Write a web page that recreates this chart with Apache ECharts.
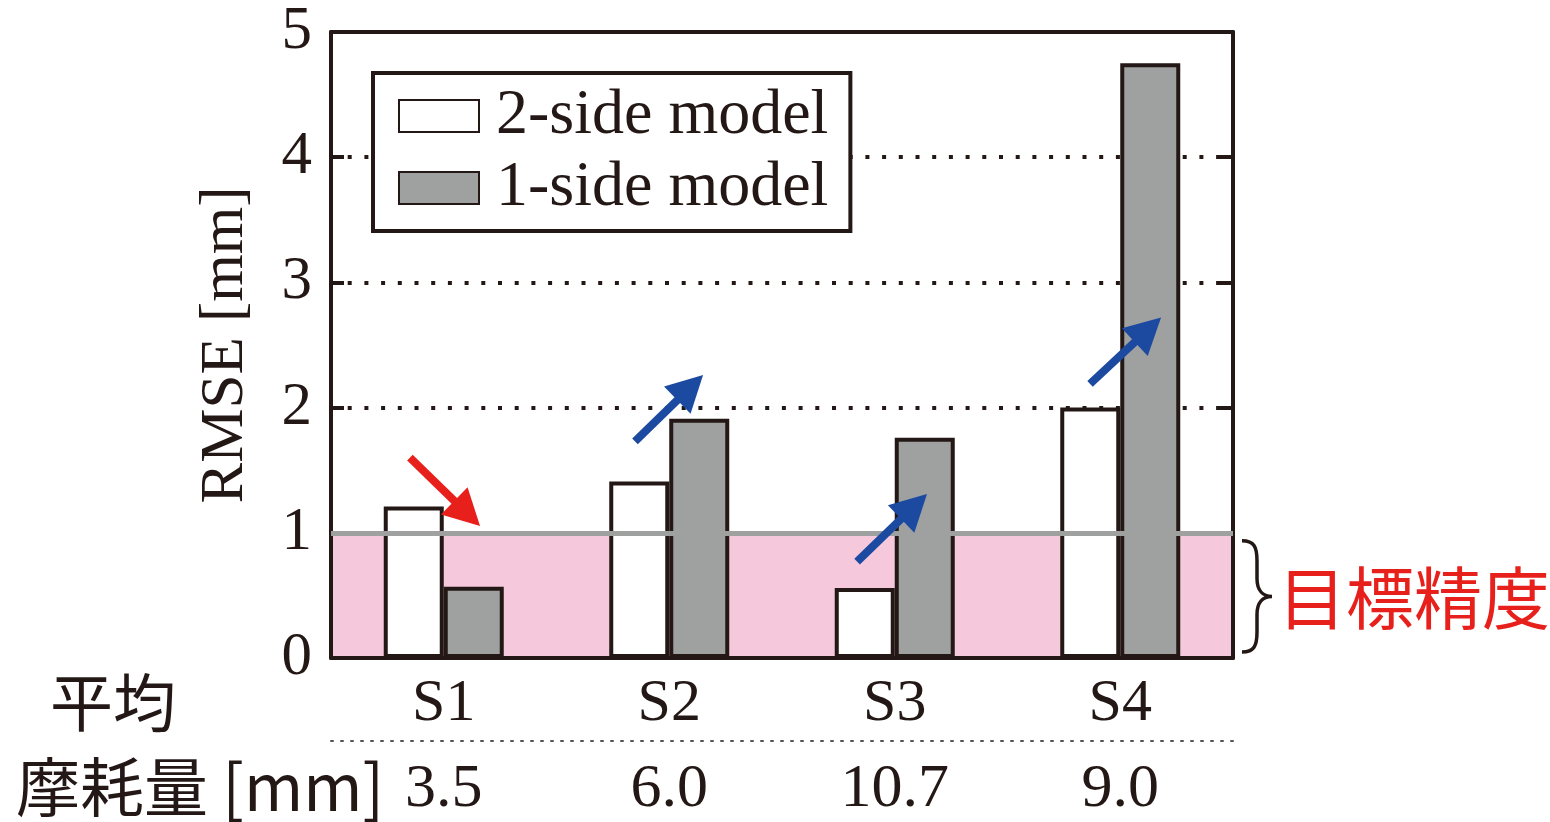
<!DOCTYPE html>
<html><head><meta charset="utf-8">
<script src="https://cdn.jsdelivr.net/npm/echarts@6/dist/echarts.min.js"></script>
<style>html,body{margin:0;padding:0;background:#fff}#c{width:1550px;height:822px}</style>
</head><body><div id="c"></div>
<script>
const categories = ['S1', 'S2', 'S3', 'S4'];
const wearValues = ['3.5', '6.0', '10.7', '9.0'];
const twoSide = [1.21, 1.41, 0.56, 2.00];
const oneSide = [0.57, 1.91, 1.76, 4.75];
const yTicks = [0, 1, 2, 3, 4, 5];
const targetBand = [0, 1];
// arrows: [x0, y0, x1(tip), y1(tip), colorIndex]  (x in category-width units from left edge)
const arrows = [
  [0.350, 1.60, 0.661, 1.054, 0],
  [1.348, 1.73, 1.650, 2.26, 1],
  [2.333, 0.77, 2.643, 1.31, 1],
  [3.366, 2.19, 3.681, 2.72, 1]
];
const arrowColors = ['#e8201c', '#1b4aa0'];
const targetLabel = '目標精度';

const INK = '#231815';
const SERIF = 'Liberation Serif';
const SANS = 'Noto Sans CJK JP';

const chart = echarts.init(document.getElementById('c'));
chart.setOption({
  animation: false,
  grid: { left: 331, right: 317, top: 32, bottom: 164, containLabel: false },
  legend: {
    data: ['2-side model', '1-side model'],
    orient: 'vertical', left: 373, top: 73, icon: 'rect', z: 6,
    padding: [11, 22, 11, 25], itemGap: 8,
    itemWidth: 80, itemHeight: 32,
    backgroundColor: '#ffffff',
    borderColor: INK, borderWidth: 4,
    textStyle: { fontFamily: SERIF, fontSize: 64, color: INK, padding: [0, 0, 0, 12] }
  },
  xAxis: [
    { type: 'category', data: categories, position: 'bottom', z: 4,
      axisLine: { onZero: false, lineStyle: { color: INK, width: 4 } },
      axisTick: { inside: true, alignWithLabel: true, length: 10, lineStyle: { color: INK, width: 4 } },
      axisLabel: { fontFamily: SERIF, fontSize: 60, color: INK, margin: 16 } },
    { type: 'category', data: categories, position: 'top', z: 4,
      axisLine: { onZero: false, lineStyle: { color: INK, width: 4 } },
      axisTick: { inside: true, alignWithLabel: true, length: 10, lineStyle: { color: INK, width: 4 } },
      axisLabel: { show: false } },
    { type: 'category', data: wearValues, position: 'bottom', offset: 83,
      axisLine: { onZero: false, lineStyle: { color: '#555', width: 2, type: [2, 8] } },
      axisTick: { show: false },
      axisLabel: { fontFamily: SERIF, fontSize: 62, color: INK, margin: 18 } },
    { type: 'value', min: 0, max: 4, show: false, axisLine: { onZero: false } }
  ],
  yAxis: [
    { type: 'value', min: yTicks[0], max: yTicks[yTicks.length - 1], interval: 1, position: 'left', z: 4,
      name: 'RMSE [mm]', nameLocation: 'middle', nameGap: 75,
      nameTextStyle: { fontFamily: SERIF, fontSize: 61, color: INK },
      axisLine: { show: true, onZero: false, lineStyle: { color: INK, width: 4 } },
      axisTick: { show: true, inside: true, length: 13, lineStyle: { color: INK, width: 4 } },
      axisLabel: { fontFamily: SERIF, fontSize: 61, color: INK, margin: 19 },
      splitLine: { show: false } },
    { type: 'value', min: yTicks[0], max: yTicks[yTicks.length - 1], interval: 1, position: 'right', z: 4,
      axisLine: { show: true, onZero: false, lineStyle: { color: INK, width: 4 } },
      axisTick: { show: true, inside: true, length: 13, lineStyle: { color: INK, width: 4 } },
      axisLabel: { show: false }, splitLine: { show: false } },
    { type: 'value', min: yTicks[0], max: yTicks[yTicks.length - 1], interval: 1, position: 'left', z: 0,
      axisLine: { show: false, onZero: false }, axisTick: { show: false }, axisLabel: { show: false },
      splitLine: { show: true, lineStyle: { color: INK, width: 4, type: [4, 12.7] } } }
  ],
  series: [
    { type: 'line', xAxisIndex: 0, yAxisIndex: 0, z: 1, data: [null, null, null, null],
      showSymbol: false, silent: true, lineStyle: { width: 0 },
      markArea: { silent: true, itemStyle: { color: '#f5c8dc' },
        data: [[{ yAxis: targetBand[0] }, { yAxis: targetBand[1] }]] },
      markLine: { silent: true, symbol: 'none', label: { show: false },
        lineStyle: { color: '#9fa0a0', width: 5, type: 'solid' },
        data: [{ yAxis: targetBand[1] }] } },
    { name: '2-side model', type: 'bar', xAxisIndex: 0, yAxisIndex: 0, z: 3,
      data: twoSide, barWidth: 60, barGap: '0%',
      itemStyle: { color: '#ffffff', borderColor: INK, borderWidth: 4 } },
    { name: '1-side model', type: 'bar', xAxisIndex: 0, yAxisIndex: 0, z: 3,
      data: oneSide, barWidth: 60, barGap: '0%',
      itemStyle: { color: '#9fa0a0', borderColor: INK, borderWidth: 4 } },
    { type: 'custom', xAxisIndex: 3, yAxisIndex: 0, z: 5, clip: false, silent: true,
      data: arrows,
      renderItem: function (params, api) {
        const p0 = api.coord([api.value(0), api.value(1)]);
        const p1 = api.coord([api.value(2), api.value(3)]);
        const col = arrowColors[api.value(4)];
        const dx = p1[0] - p0[0], dy = p1[1] - p0[1];
        const len = Math.sqrt(dx * dx + dy * dy);
        const ux = dx / len, uy = dy / len, nx = -uy, ny = ux;
        const L = 36, W = 19;
        const bx = p1[0] - ux * L, by = p1[1] - uy * L;
        return { type: 'group', children: [
          { type: 'line', shape: { x1: p0[0], y1: p0[1], x2: bx + ux * 4, y2: by + uy * 4 },
            style: { stroke: col, lineWidth: 8 } },
          { type: 'polygon', shape: { points: [[p1[0], p1[1]], [bx + nx * W, by + ny * W], [bx - nx * W, by - ny * W]] },
            style: { fill: col } }
        ] };
      } },
    { type: 'custom', xAxisIndex: 3, yAxisIndex: 0, z: 5, clip: false, silent: true,
      data: [[4, targetBand[0], targetBand[1]]],
      renderItem: function (params, api) {
        const pb = api.coord([api.value(0), api.value(1)]);
        const pt = api.coord([api.value(0), api.value(2)]);
        const x0 = pb[0] + 9, yT = pt[1] + 8, yB = pb[1] - 6, yM = (yT + yB) / 2;
        const xm = x0 + 15, xt = x0 + 30;
        const d = 'M' + x0 + ' ' + yT +
          ' C' + (x0 + 12) + ' ' + yT + ' ' + xm + ' ' + (yT + 6) + ' ' + xm + ' ' + (yT + 20) +
          ' L' + xm + ' ' + (yM - 18) +
          ' C' + xm + ' ' + (yM - 6) + ' ' + (xm + 6) + ' ' + yM + ' ' + xt + ' ' + yM +
          ' C' + (xm + 6) + ' ' + yM + ' ' + xm + ' ' + (yM + 6) + ' ' + xm + ' ' + (yM + 18) +
          ' L' + xm + ' ' + (yB - 20) +
          ' C' + xm + ' ' + (yB - 6) + ' ' + (x0 + 12) + ' ' + yB + ' ' + x0 + ' ' + yB;
        return { type: 'group', children: [
          { type: 'path', shape: { pathData: d }, style: { stroke: INK, lineWidth: 3.5, fill: null } },
          { type: 'text', x: x0 + 36, y: yM + 2,
            style: { text: targetLabel, fontFamily: SANS, fontSize: 68, fill: '#e8201c', verticalAlign: 'middle', align: 'left' } }
        ] };
      } }
  ],
  graphic: [
    { type: 'text', left: 50, top: 671, style: { text: '平均', fontFamily: SANS, fontSize: 63, fill: INK } },
    { type: 'text', left: 16, top: 755, style: { text: '摩耗量 [mm]', fontFamily: SANS, fontSize: 64, fill: INK } }
  ]
});
</script></body></html>
